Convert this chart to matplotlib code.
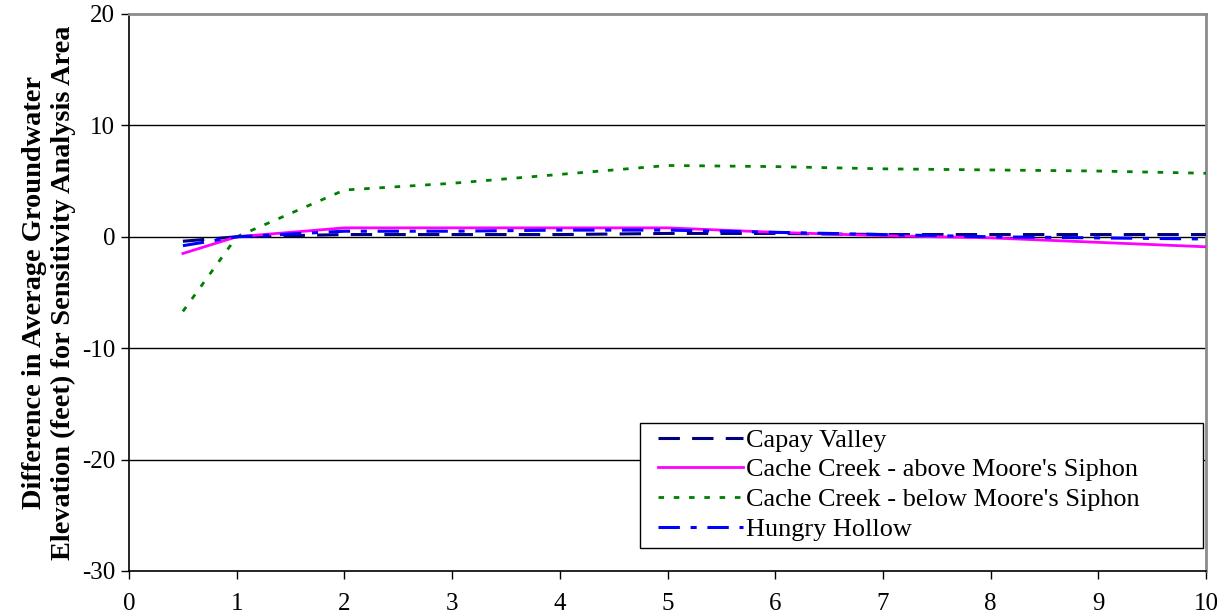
import matplotlib
matplotlib.use('Agg')
import matplotlib.pyplot as plt
from matplotlib.patches import Rectangle

# ---data-------------------------------------------------------------
x_vals = [0.5, 1, 2, 3, 4, 5, 6, 7, 8, 9, 10]
capay_valley = [-0.4, 0.0, 0.2, 0.2, 0.2, 0.3, 0.3, 0.2, 0.2, 0.2, 0.2]
cache_above = [-1.5, 0.0, 0.8, 0.8, 0.8, 0.8, 0.4, 0.1, -0.1, -0.5, -0.9]
cache_below = [-6.7, 0.0, 4.2, 4.8, 5.6, 6.4, 6.3, 6.1, 6.0, 5.9, 5.7]
hungry_hollow = [-0.8, 0.0, 0.5, 0.5, 0.6, 0.6, 0.4, 0.2, 0.0, -0.1, -0.2]
y_ticks = [-30, -20, -10, 0, 10, 20]
x_ticks = [0, 1, 2, 3, 4, 5, 6, 7, 8, 9, 10]

plt.rcParams['font.family'] = ['Liberation Serif', 'DejaVu Serif']
plt.rcParams['axes.unicode_minus'] = False

fig = plt.figure(figsize=(12.29, 6.16), dpi=100)
ax = fig.add_axes([0.105, 0.0731, 0.8763, 0.9042])

ax.plot(x_vals, capay_valley, color='#000080', lw=2.2, dashes=(7, 4), label='Capay Valley', zorder=3)
ax.plot(x_vals, cache_above, color='#ff00ff', lw=2.0, label="Cache Creek - above Moore's Siphon", zorder=3)
ax.plot(x_vals, cache_below, color='#008000', lw=2.0, dashes=(2, 3.5), label="Cache Creek - below Moore's Siphon", zorder=3)
ax.plot(x_vals, hungry_hollow, color='#0000ff', lw=2.2, dashes=(7, 3.5, 2, 3.5), label='Hungry Hollow', zorder=4)

ax.set_xlim(0, 10)
ax.set_ylim(-30, 20)
ax.set_xticks(x_ticks)
ax.set_yticks(y_ticks)
for yv in [-20, -10, 0, 10]:
    ax.axhline(yv, color='black', lw=1, zorder=1)

for s in ['left', 'bottom']:
    ax.spines[s].set_color('black')
    ax.spines[s].set_linewidth(1.2)
for s in ['top', 'right']:
    ax.spines[s].set_color('#8c8c8c')
    ax.spines[s].set_linewidth(2)

ax.tick_params(axis='both', direction='out', length=6, width=1, labelsize=18, colors='black')
ax.tick_params(axis='x', pad=10)
ax.tick_params(axis='y', pad=4)

ax.set_ylabel('Difference in Average Groundwater\nElevation (feet) for Sensitivity Analysis Area',
              fontsize=20.4, fontweight='bold', labelpad=4, linespacing=1.2)

# legend frame drawn separately so the box can be wider than its contents
box = Rectangle((0.4745, 0.0413), 0.5227, 0.2244, transform=ax.transAxes,
                facecolor='white', edgecolor='black', lw=1, zorder=5)
ax.add_patch(box)
leg = ax.legend(loc='upper left', bbox_to_anchor=(0.491, 0.256), fontsize=18.9,
                frameon=False, handlelength=3.25, handletextpad=0.12,
                labelspacing=0.24, borderpad=0, borderaxespad=0)
leg.set_zorder(6)

fig.savefig('out.png', dpi=100)
